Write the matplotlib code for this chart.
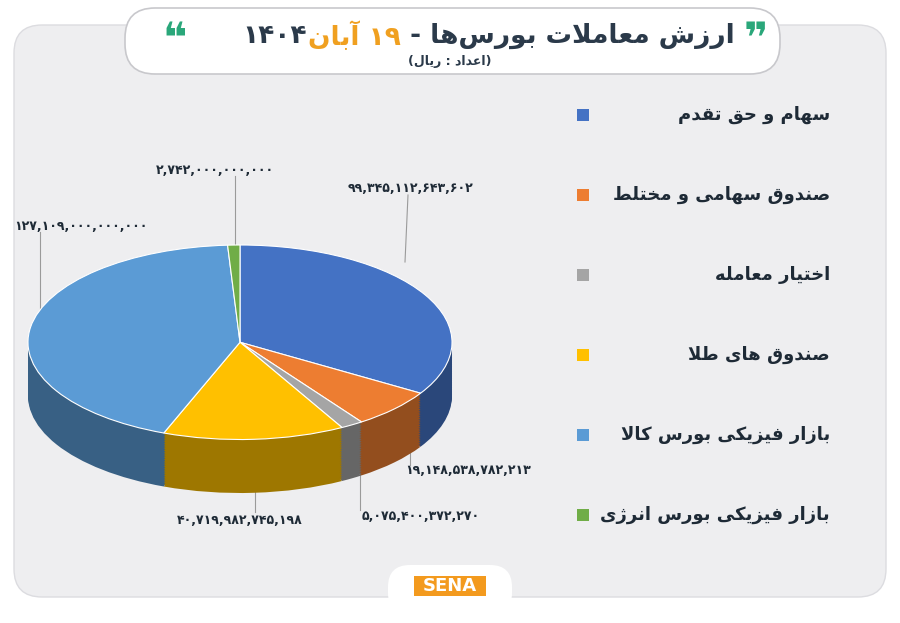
import unicodedata
import matplotlib.pyplot as plt
from matplotlib.patches import FancyBboxPatch, Rectangle

plt.rcParams['font.family'] = ['DejaVu Sans']

# data
categories = ['سهام و حق تقدم', 'صندوق سهامی و مختلط', 'اختیار معامله',
              'صندوق های طلا', 'بازار فیزیکی بورس کالا', 'بازار فیزیکی بورس انرژی']
values = [99345112643602, 19148538782213, 5075400372270,
          40719982745198, 127109000000000, 2742000000000]
colors = ['#4472c4', '#ed7d31', '#a5a5a5', '#ffc000', '#5b9bd5', '#70ad47']
title_dark = 'ارزش معاملات بورس‌ها - '
title_orange = '۱۹ آبان'
title_year = '۱۴۰۴'
subtitle = '(اعداد : ریال)'

RIGHT_ONLY = set('اآأإدذرزژوؤة')
FA_DIGITS = '۰۱۲۳۴۵۶۷۸۹'


def is_letter(c):
    return '\u0620' <= c <= '\u064A' or c in 'پچژکگیآ'


def form(c, f):
    try:
        return unicodedata.lookup(unicodedata.name(c) + ' ' + f + ' FORM')
    except KeyError:
        return c


def shape(s):
    out = []
    i = 0
    n = len(s)
    while i < n:
        c = s[i]
        if not is_letter(c):
            if c != '\u200c':
                out.append(c)
            i += 1
            continue
        prev = i > 0 and is_letter(s[i - 1]) and s[i - 1] not in RIGHT_ONLY
        if c == 'ل' and i + 1 < n and s[i + 1] == 'ا':
            out.append('\uFEFC' if prev else '\uFEFB')
            i += 2
            continue
        nxt = c not in RIGHT_ONLY and i + 1 < n and is_letter(s[i + 1])
        if prev and nxt:
            out.append(form(c, 'MEDIAL'))
        elif prev:
            out.append(form(c, 'FINAL'))
        elif nxt:
            out.append(form(c, 'INITIAL'))
        else:
            out.append(form(c, 'ISOLATED'))
        i += 1
    # visual order: reverse, keep digit runs LTR
    rev = out[::-1]
    res, run = [], []
    for ch in rev:
        if ch in FA_DIGITS or ch.isdigit() or (run and ch == ','):
            run.append(ch)
        else:
            res.extend(run[::-1]); run = []
            res.append({'(': ')', ')': '('}.get(ch, ch))
    res.extend(run[::-1])
    return ''.join(res)


def fa_num(v):
    return f'{v:,}'.translate(str.maketrans('0123456789', FA_DIGITS))


fig = plt.figure(figsize=(9, 6.23), dpi=100)
bg = fig.add_axes([0, 0, 1, 1])
bg.set_xlim(0, 900); bg.set_ylim(623, 0); bg.axis('off')
bg.add_patch(FancyBboxPatch((14, 25), 872, 572, boxstyle='round,pad=0,rounding_size=28',
                            fc='#eeeef0', ec='#dcdce0', lw=1))
bg.add_patch(FancyBboxPatch((125, 8), 655, 66, boxstyle='round,pad=0,rounding_size=30',
                            fc='white', ec='#c8c8cc', lw=1.2))

# title pieces
fig.canvas.draw()
r = fig.canvas.get_renderer()
tx = 735
t1 = bg.text(tx, 36, shape(title_dark), fontsize=19, fontweight='bold', color='#2b3a4a',
             ha='right', va='center')
w1 = t1.get_window_extent(r).width
t2 = bg.text(tx - w1, 36, shape(title_orange), fontsize=19, fontweight='bold', color='#f0a020',
             ha='right', va='center')
w2 = t2.get_window_extent(r).width
bg.text(tx - w1 - w2 - 2, 36, title_year, fontsize=19, fontweight='bold', color='#2b3a4a',
        ha='right', va='center')
bg.text(450, 62, shape(subtitle), fontsize=9, fontweight='bold', color='#2b3a4a',
        ha='center', va='center')
bg.text(756, 40, '❞', fontsize=30, color='#2aa77a', ha='center', va='center', fontweight='bold')
bg.text(175, 40, '❝', fontsize=30, color='#2aa77a', ha='center', va='center', fontweight='bold')

# legend
for k, (cat, col) in enumerate(zip(categories, colors)):
    y = 115 + k * 80
    bg.add_patch(Rectangle((577, y - 6), 12, 12, fc=col, ec='none'))
    bg.text(830, y, shape(cat), fontsize=13, fontweight='bold', color='#1e2a36',
            ha='right', va='center')

# pie (pseudo 3D)
px0, px1, py0, py1 = 28, 452, 245, 493
pax = fig.add_axes([px0 / 900, 1 - py1 / 623, (px1 - px0) / 900, (py1 - py0) / 623])
depth = 0.55


def darker(c, f=0.62):
    import matplotlib.colors as mc
    rgb = mc.to_rgb(c)
    return tuple(x * f for x in rgb)


layers = 30
for j in range(layers, 0, -1):
    pax.pie(values, colors=[darker(c) for c in colors], startangle=90, counterclock=False,
            center=(0, -depth * j / layers), radius=1, frame=True,
            wedgeprops=dict(lw=0))
pax.pie(values, colors=colors, startangle=90, counterclock=False, center=(0, 0), radius=1,
        frame=True, wedgeprops=dict(lw=0.8, ec='white'))
pax.set_xlim(-1, 1); pax.set_ylim(-1 - depth, 1); pax.set_aspect('auto'); pax.axis('off')

# value labels with leader lines
label_pos = [(410, 188, 'center', (408, 195), (405, 262)),
             (405, 470, 'left', (410, 465), (410, 420)),
             (362, 516, 'left', (360, 510), (360, 442)),
             (240, 520, 'center', (255, 512), (255, 490)),
             (14, 226, 'left', (40, 232), (40, 310)),
             (215, 170, 'center', (235, 176), (235, 245))]
for v, (x, y, ha, a, b) in zip(values, label_pos):
    bg.text(x, y, fa_num(v), fontsize=9, fontweight='bold', color='#1e2a36', ha=ha, va='center')
    bg.plot([a[0], b[0]], [a[1], b[1]], color='#9a9a9a', lw=0.8)

# logo
bg.add_patch(FancyBboxPatch((388, 565), 124, 50, boxstyle='round,pad=0,rounding_size=22',
                            fc='white', ec='none'))
bg.add_patch(Rectangle((414, 576), 72, 20, fc='#f39a1e', ec='none'))
bg.text(450, 586, 'SENA', fontsize=13, fontweight='bold', color='white', ha='center', va='center')

fig.savefig('out.png', dpi=100)
